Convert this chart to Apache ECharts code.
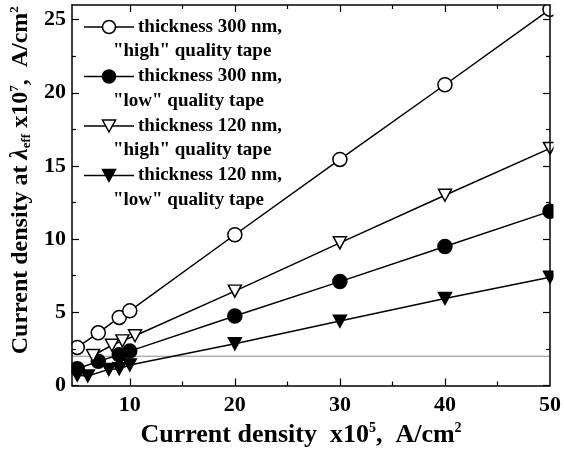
<!DOCTYPE html>
<html>
<head>
<meta charset="utf-8">
<script src="https://cdn.jsdelivr.net/npm/echarts@6/dist/echarts.min.js"></script>
<style>html,body{margin:0;padding:0;background:#fff}#c{width:564px;height:453px}</style>
</head>
<body>
<div id="c"></div>
<script>
// ---- data ----
const hi300X = [5, 7, 9, 10, 20, 30, 40, 50];
const hi300Y = [2.6, 3.6, 4.65, 5.1, 10.3, 15.45, 20.55, 25.7];
const lo300X = [5, 7, 9, 10, 20, 30, 40, 50];
const lo300Y = [1.15, 1.65, 2.1, 2.35, 4.75, 7.1, 9.5, 11.9];
const hi120X = [6.5, 8.3, 9.3, 10.5, 20, 30, 40, 50];
const hi120Y = [2.05, 2.75, 3.05, 3.4, 6.45, 9.75, 13.0, 16.2];
const lo120X = [5, 6, 8, 9, 10, 20, 30, 40, 50];
const lo120Y = [0.7, 0.65, 1.1, 1.15, 1.4, 2.85, 4.4, 5.95, 7.4];
const refLineY = 2;

const legendLine1 = ['thickness 300 nm,', 'thickness 300 nm,', 'thickness 120 nm,', 'thickness 120 nm,'];
const legendLine2 = ['"high" quality tape', '"low" quality tape', '"high" quality tape', '"low" quality tape'];

const xMajor = [10, 20, 30, 40, 50];
const xMinor = [15, 25, 35, 45];
const yMajor = [0, 5, 10, 15, 20, 25];
const yMinor = [2.5, 7.5, 12.5, 17.5, 22.5];

const FONT = '"Liberation Serif", "DejaVu Serif", serif';
const G = {left: 72, top: 5, width: 481, height: 383};

function zip(xs, ys) { return xs.map((x, i) => [x, ys[i]]); }

function xAx(pos, ticks, len, labels, line) {
  return {
    type: 'value', position: pos, min: 4.5, max: 50, z: 10,
    splitLine: {show: false},
    axisLine: {show: line, onZero: false, lineStyle: {color: '#000', width: 1.5}},
    axisTick: {show: true, inside: true, length: len, customValues: ticks, lineStyle: {color: '#000', width: 1.2}},
    axisLabel: labels ? {show: true, customValues: ticks, margin: 8, color: '#000', fontFamily: FONT, fontWeight: 'bold', fontSize: 22} : {show: false}
  };
}
function yAx(pos, ticks, len, labels, line) {
  return {
    type: 'value', position: pos, min: 0, max: 26, z: 10,
    splitLine: {show: false},
    axisLine: {show: line, onZero: false, lineStyle: {color: '#000', width: 1.5}},
    axisTick: {show: true, inside: true, length: len, customValues: ticks, lineStyle: {color: '#000', width: 1.2}},
    axisLabel: labels ? {show: true, customValues: ticks, margin: 6, color: '#000', fontFamily: FONT, fontWeight: 'bold', fontSize: 22} : {show: false}
  };
}

const xAxes = [xAx('bottom', xMajor.slice(0, 4), 7, false, true), xAx('bottom', xMinor, 4, false, false),
               xAx('top', xMajor.slice(0, 4), 7, false, true), xAx('top', xMinor, 4, false, false)];
xAxes[0].axisLabel = {show: true, customValues: xMajor, margin: 9, color: '#000', fontFamily: FONT, fontWeight: 'bold', fontSize: 22};
xAxes[0].name = '{b|Current density  x10}{sup|5}{b|,  A/cm}{sup|2}';
xAxes[0].nameLocation = 'middle';
xAxes[0].nameGap = 36;
xAxes[0].nameTextStyle = {
  color: '#000', fontFamily: FONT, fontWeight: 'bold', fontSize: 26, padding: [0, 20, 0, 0],
  rich: {
    b: {fontFamily: FONT, fontWeight: 'bold', fontSize: 26, color: '#000', lineHeight: 27},
    sup: {fontFamily: FONT, fontWeight: 'bold', fontSize: 14, color: '#000', verticalAlign: 'top', lineHeight: 14}
  }
};
const yAxes = [yAx('left', yMajor, 7, true, true), yAx('left', yMinor, 4, false, false),
               yAx('right', yMajor, 7, false, true), yAx('right', yMinor, 4, false, false)];
yAxes[0].name = '{b|Current density at }{i|\u03bb}{sub|eff}{b| x10}{sup|7}{b|,  A/cm}{sup|2}';
yAxes[0].nameLocation = 'middle';
yAxes[0].nameRotate = 90;
yAxes[0].nameGap = 26;
yAxes[0].nameTextStyle = {
  color: '#000', fontFamily: FONT, fontWeight: 'bold', fontSize: 24, padding: [0, 0, 0, 30],
  rich: {
    b: {fontFamily: FONT, fontWeight: 'bold', fontSize: 24, color: '#000', lineHeight: 25},
    i: {fontFamily: FONT, fontWeight: 'bold', fontStyle: 'italic', fontSize: 25, color: '#000', lineHeight: 25},
    sub: {fontFamily: FONT, fontWeight: 'bold', fontSize: 13, color: '#000', verticalAlign: 'bottom', lineHeight: 13},
    sup: {fontFamily: FONT, fontWeight: 'bold', fontSize: 13, color: '#000', verticalAlign: 'top', lineHeight: 13}
  }
};

function ser(name, xs, ys, symbol, filled, extra) {
  return Object.assign({
    name: name, type: 'line', xAxisIndex: 0, yAxisIndex: 0, data: zip(xs, ys),
    symbol: symbol, symbolSize: symbol === 'circle' ? 14 : [13, 12],
    symbolRotate: symbol === 'triangle' ? 180 : 0,
    showSymbol: true, showAllSymbol: true, z: 2,
    lineStyle: {color: '#000', width: 1.5},
    itemStyle: {color: filled ? '#000' : '#fff', borderColor: '#000', borderWidth: 1.5, opacity: 1}
  }, extra || {});
}

const series = [
  ser('gray', [4.5, 50], [refLineY, refLineY], 'none', true, {lineStyle: {color: '#8a8a8a', width: 1}, z: 1}),
  ser('lo120', lo120X, lo120Y, 'triangle', true),
  ser('lo300', lo300X, lo300Y, 'circle', true),
  ser('hi120', hi120X, hi120Y, 'triangle', false),
  ser('hi300', hi300X, hi300Y, 'circle', false)
];

// legend drawn as graphics
const graphic = [
  {type: 'rect', z: 5, silent: true, shape: {x: G.left + G.width + 0.5, y: 0, width: 20, height: G.top + G.height}, style: {fill: '#fff'}},
  {type: 'rect', z: 5, silent: true, shape: {x: 0, y: 0, width: 564, height: G.top - 0.5}, style: {fill: '#fff'}},
  {type: 'rect', z: 5, silent: true, shape: {x: 0, y: 0, width: G.left - 0.5, height: G.top + G.height}, style: {fill: '#fff'}}
];
const symKinds = [['circle', false], ['circle', true], ['triangle', false], ['triangle', true]];
for (let i = 0; i < 4; i++) {
  const y1 = 27 + 49.5 * i, y2 = y1 + 24.5;
  graphic.push({type: 'line', z: 6, silent: true, shape: {x1: 84, y1: y1, x2: 134, y2: y1}, style: {stroke: '#000', lineWidth: 1.5}});
  const fill = symKinds[i][1] ? '#000' : '#fff';
  if (symKinds[i][0] === 'circle') {
    graphic.push({type: 'circle', z: 7, silent: true, shape: {cx: 109, cy: y1, r: 6.5}, style: {fill: fill, stroke: '#000', lineWidth: 1.5}});
  } else {
    graphic.push({type: 'polygon', z: 7, silent: true, shape: {points: [[102.5, y1 - 6], [115.5, y1 - 6], [109, y1 + 6]]}, style: {fill: fill, stroke: '#000', lineWidth: 1.5}});
  }
  graphic.push({type: 'text', z: 7, silent: true, x: 138, y: y1, style: {text: legendLine1[i], fill: '#000', font: 'bold 19px ' + FONT, textVerticalAlign: 'middle'}});
  graphic.push({type: 'text', z: 7, silent: true, x: 113, y: y2, style: {text: legendLine2[i], fill: '#000', font: 'bold 19px ' + FONT, textVerticalAlign: 'middle'}});
}

const chart = echarts.init(document.getElementById('c'), null, {renderer: 'canvas'});
chart.setOption({
  animation: false,
  backgroundColor: '#fff',
  grid: {left: G.left, top: G.top, width: G.width, height: G.height, containLabel: false},
  xAxis: xAxes,
  yAxis: yAxes,
  series: series,
  graphic: graphic
});
</script>
</body>
</html>
